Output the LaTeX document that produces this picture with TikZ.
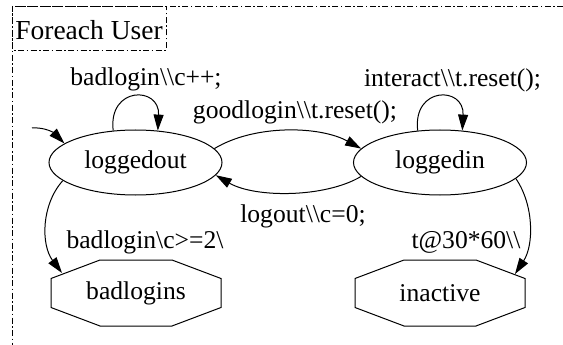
\documentclass[tikz,border=0pt]{standalone}
\usepackage{fontspec}
\setmainfont{Liberation Serif}
\usetikzlibrary{arrows.meta,calc,shapes.geometric}
\newcommand\drawoctagon[1]{%
  \draw[line width=1pt] ($(#1)+(-36,-33)$) -- ($(#1)+(36,-33)$) -- ($(#1)+(85,-14.5)$) -- ($(#1)+(85,14.5)$)
    -- ($(#1)+(36,33)$) -- ($(#1)+(-36,33)$) -- ($(#1)+(-85,14.5)$) -- ($(#1)+(-85,-14.5)$) -- cycle;}
\newcommand\bs{\textbackslash}
\begin{document}
\begin{tikzpicture}[x=1pt,y=-1pt,
  lbl/.style={font=\fontsize{25.6pt}{30pt}\selectfont, inner sep=0pt, anchor=base},
  state/.style={ellipse, draw, line width=1pt, minimum width=173pt, minimum height=65pt, inner sep=0pt,
    font=\fontsize{25.6pt}{30pt}\selectfont},
  octnode/.style={minimum width=170pt, minimum height=66pt, inner sep=0pt,
    font=\fontsize{25.6pt}{30pt}\selectfont},
  edge/.style={line width=1pt, -{Triangle[length=16pt,width=10pt]}},
  framestyle/.style={line width=0.9pt, dash pattern=on 6pt off 2.5pt on 1.5pt off 2.5pt}
]
\useasboundingbox (0,0) rectangle (563,345);
% cluster frame
\draw[framestyle] (563,6) -- (12,6) -- (12,345);
\draw[framestyle] (12,6) rectangle (166,50);
\node[lbl, font=\fontsize{27.5pt}{32pt}\selectfont] (title) at (89,40) {Foreach User};
% states
\node[state] (loggedout) at (135.5,162.5) {loggedout};
\node[state] (loggedin) at (440,162.5) {loggedin};
\node[octnode] (badlogins) at (136,293) {badlogins};
\node[octnode] (inactive) at (440,293) {inactive};
\drawoctagon{badlogins}
\drawoctagon{inactive}
\coordinate (start) at (32,128);
% edges
\draw[edge] (start) .. controls (45,127) and (54,133) .. (loggedout.165);
\draw[edge] (loggedout.125) .. controls (108,86) and (160,86) .. (loggedout.55);
\draw[edge] (loggedin.125) .. controls (412.5,86) and (464.5,86) .. (loggedin.55);
\draw[edge] (loggedout.10) .. controls (255,124) and (320,126) .. (loggedin.170);
\draw[edge] (loggedin.190) .. controls (325,198) and (255,198) .. (loggedout.351);
\draw[edge] (loggedout.194) .. controls (41,205) and (41,245) .. ($(badlogins)+(-74,-20)$);
\draw[edge] (loggedin.348) .. controls (534,205) and (534,245) .. ($(inactive)+(75,-19)$);
% labels
\node[lbl] (l1) at (146,86) {badlogin\bs\bs c++;};
\node[lbl] (l2) at (295,118) {goodlogin\bs\bs t.reset();};
\node[lbl] (l3) at (452.5,87) {interact\bs\bs t.reset();};
\node[lbl] (l4) at (303,222) {logout\bs\bs c=0;};
\node[lbl] (l5) at (145,248) {badlogin\bs c>=2\bs};
\node[lbl] (l6) at (466,248) {t@30*60\bs\bs};
\end{tikzpicture}
\end{document}
